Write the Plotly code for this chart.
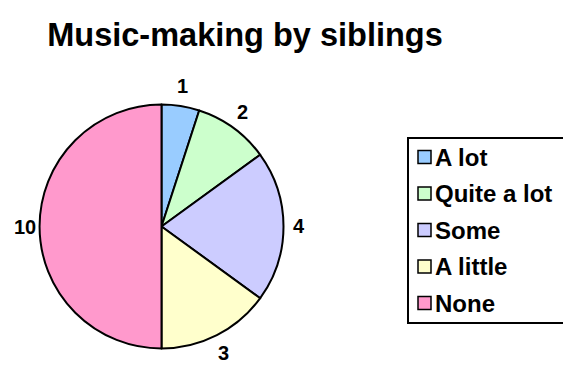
import math
import plotly.graph_objects as go

# Survey answers: how much the siblings make music
categories = ["A lot", "Quite a lot", "Some", "A little", "None"]
counts = [1, 2, 4, 3, 10]
colors = ["#99CCFF", "#CCFFCC", "#CCCCFF", "#FFFFCC", "#FF99CC"]

W, H = 563, 365
FONT = "Liberation Sans, Arial, sans-serif"

# Pie geometry in pixels (centre and radius)
CX, CY, R = 161.5, 226.5, 122
# Value labels sit on an ellipse around the pie, at each slice's mid-angle
LAB_RX, LAB_RY = 137, 142

fig = go.Figure()
fig.add_trace(go.Pie(
    labels=categories,
    values=counts,
    sort=False,
    direction="clockwise",
    rotation=0,
    marker=dict(colors=colors, line=dict(color="black", width=2)),
    textinfo="none",
    domain=dict(x=[(CX - R) / W, (CX + R) / W],
                y=[(H - CY - R) / H, (H - CY + R) / H]),
    showlegend=False,
    hoverinfo="label+value",
))

total = sum(counts)
cum = 0
for v in counts:
    mid = (cum + v / 2) / total * 2 * math.pi
    cum += v
    lx = CX + LAB_RX * math.sin(mid)
    ly = CY - LAB_RY * math.cos(mid)
    fig.add_annotation(xref="paper", yref="paper", x=lx / W, y=1 - ly / H,
                       xanchor="center", yanchor="middle", showarrow=False,
                       text=f"<b>{v}</b>",
                       font=dict(family=FONT, size=20, color="black"))

# Boxed legend at the right, one square + label per category
box_left, box_top, box_bottom = 408, 138, 323
fig.add_shape(type="rect", xref="paper", yref="paper",
              x0=box_left / W, x1=(W + 10) / W,
              y0=1 - box_bottom / H, y1=1 - box_top / H,
              line=dict(color="black", width=2), fillcolor="rgba(0,0,0,0)")
row0, step, sq = 157, 36.5, 13
for i, (name, col) in enumerate(zip(categories, colors)):
    cy = row0 + i * step
    fig.add_shape(type="rect", xref="paper", yref="paper",
                  x0=418 / W, x1=(418 + sq) / W,
                  y0=1 - (cy + sq / 2) / H, y1=1 - (cy - sq / 2) / H,
                  line=dict(color="black", width=1.5), fillcolor=col)
    fig.add_annotation(xref="paper", yref="paper", x=433 / W, y=1 - cy / H,
                       xanchor="left", yanchor="middle", showarrow=False,
                       text=f"<b>{name}</b>",
                       font=dict(family=FONT, size=24, color="black"))

fig.update_layout(
    width=W, height=H,
    margin=dict(l=0, r=0, t=0, b=0, autoexpand=False),
    paper_bgcolor="white", plot_bgcolor="white",
    title=dict(text="<b>Music-making by siblings</b>",
               x=245 / W, xanchor="center", xref="paper",
               y=1 - 35 / H, yanchor="middle", yref="container",
               font=dict(family=FONT, size=32.5, color="black")),
)

fig.write_html("out.html")
